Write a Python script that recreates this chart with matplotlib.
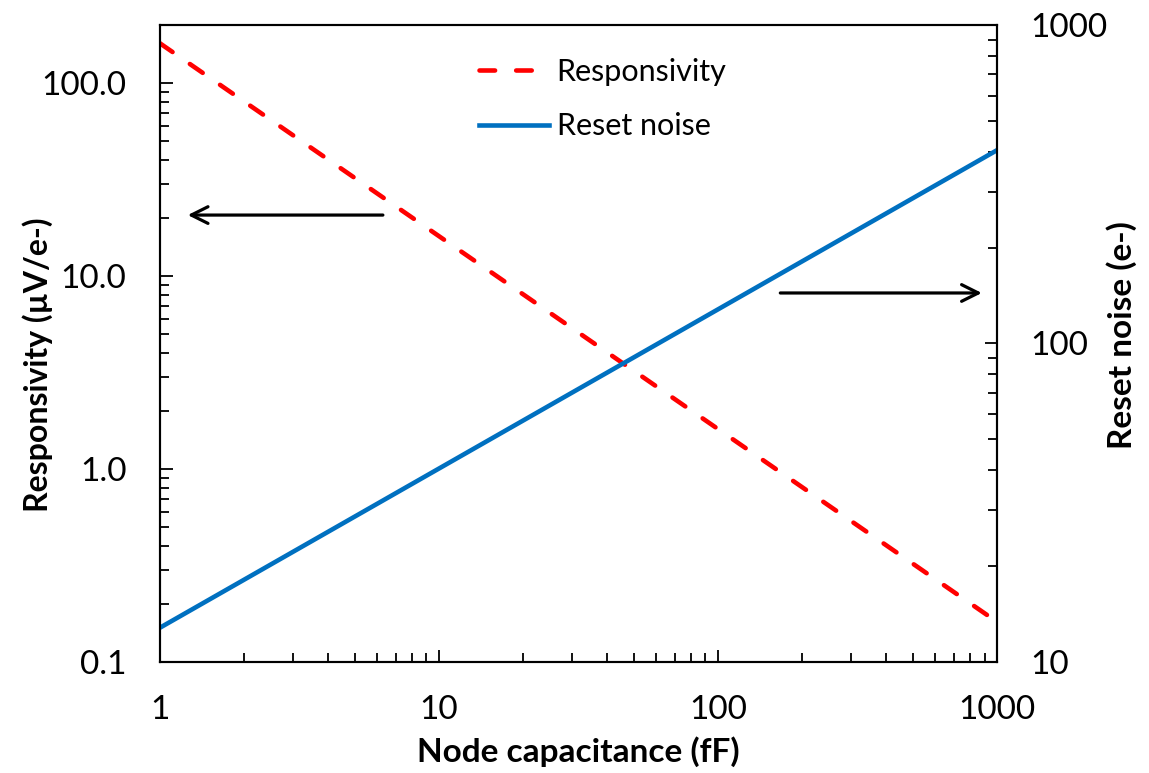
import matplotlib
matplotlib.use("Agg")
import matplotlib.pyplot as plt
from matplotlib.ticker import FixedLocator, FixedFormatter, LogLocator, NullFormatter

plt.rcParams['font.family'] = ['Lato', 'DejaVu Sans']

# data
capacitance = [1, 1000]              # fF
responsivity = [161, 0.161]          # uV/e-
reset_noise = [12.8, 405]            # e-

left_ticks = [0.1, 1.0, 10.0, 100.0]
left_labels = ['0.1', '1.0', '10.0', '100.0']
right_ticks = [10, 100, 1000]
right_labels = ['10', '100', '1000']
x_ticks = [1, 10, 100, 1000]
x_labels = ['1', '10', '100', '1000']

fig = plt.figure(figsize=(11.49, 7.73), dpi=100)
ax = fig.add_axes([0.139, 0.1436, 0.729, 0.8241])
ax2 = ax.twinx()

ax.set_xscale('log')
ax.set_yscale('log')
ax2.set_yscale('log')
ax.set_xlim(1, 1000)
ax.set_ylim(0.1, 200)
ax2.set_ylim(10, 1000)

l1, = ax.plot(capacitance, responsivity, color='#ff0000', lw=3.3,
              dashes=(3.4, 4.6), dash_capstyle='round', label='Responsivity')
l2, = ax2.plot(capacitance, reset_noise, color='#0070c0', lw=3.3,
               label='Reset noise')

# ticks
for a in (ax, ax2):
    a.tick_params(which='major', direction='in', length=9, width=1.3,
                  labelsize=24, pad=24)
    a.tick_params(which='minor', direction='in', length=6.5, width=1.3)
    for s in a.spines.values():
        s.set_linewidth(1.5)

ax.tick_params(axis='y', which='both', left=True, right=False)
ax2.tick_params(axis='y', which='both', left=False, right=True)
ax.tick_params(axis='x', which='both', top=False)

ax.xaxis.set_major_locator(FixedLocator(x_ticks))
ax.xaxis.set_major_formatter(FixedFormatter(x_labels))
ax.xaxis.set_minor_locator(LogLocator(base=10, subs=range(2, 10)))
ax.xaxis.set_minor_formatter(NullFormatter())

ax.yaxis.set_major_locator(FixedLocator(left_ticks))
ax.yaxis.set_major_formatter(FixedFormatter(left_labels))
ax.yaxis.set_minor_locator(LogLocator(base=10, subs=range(2, 10)))
ax.yaxis.set_minor_formatter(NullFormatter())

ax2.yaxis.set_major_locator(FixedLocator(right_ticks))
ax2.yaxis.set_major_formatter(FixedFormatter(right_labels))
ax2.yaxis.set_minor_locator(LogLocator(base=10, subs=range(2, 10)))
ax2.yaxis.set_minor_formatter(NullFormatter())

ax.set_xlabel('Node capacitance (fF)', fontsize=24, fontweight='bold', labelpad=8)
ax.set_ylabel('Responsivity (µV/e-)', fontsize=23, fontweight='bold')
ax.yaxis.set_label_coords(-0.127, 0.466)
ax2.set_ylabel('Reset noise (e-)', fontsize=24, fontweight='bold')
ax2.yaxis.set_label_coords(1.13, 0.513)

# arrows pointing to the axes
ax.annotate('', xy=(1.26, 20.7), xytext=(6.3, 20.7),
            arrowprops=dict(arrowstyle='->', lw=2.3, color='black',
                            mutation_scale=30, shrinkA=0, shrinkB=0))
ax.annotate('', xy=(880, 8.17), xytext=(167, 8.17),
            arrowprops=dict(arrowstyle='->', lw=2.3, color='black',
                            mutation_scale=30, shrinkA=0, shrinkB=0))

leg = ax.legend(handles=[l1, l2], loc='upper left', bbox_to_anchor=(0.348, 0.992),
                frameon=False, fontsize=22, handlelength=2.3, labelspacing=0.88,
                handletextpad=0.25)

fig.savefig('out.png', dpi=100)
